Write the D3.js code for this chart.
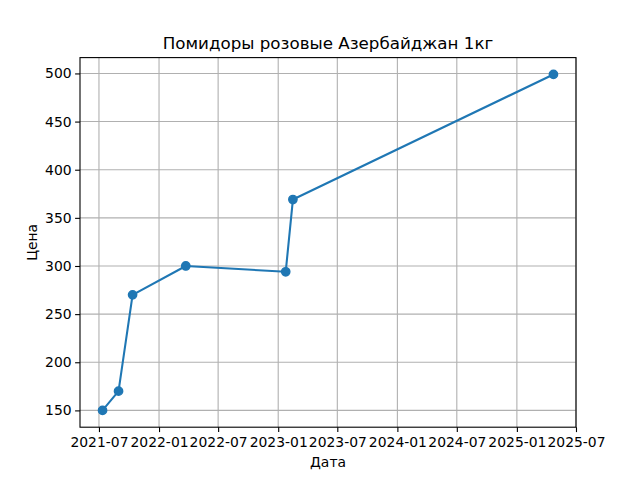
<!DOCTYPE html>
<html>
<head>
<meta charset="utf-8">
<script src="https://cdn.jsdelivr.net/npm/d3@7"></script>
<style>
  html, body { margin: 0; padding: 0; background: #fff; }
  svg { display: block; font-family: "DejaVu Sans", sans-serif; }
</style>
</head>
<body>
<svg id="chart" width="640" height="480"></svg>
<script>
const dates = ["2021-07-12", "2021-08-30", "2021-10-12", "2022-03-24", "2023-01-24", "2023-02-15", "2025-04-23"];
const prices = [150, 170, 270, 300, 294, 369, 499];
const xTickLabels = ["2021-07", "2022-01", "2022-07", "2023-01", "2023-07", "2024-01", "2024-07", "2025-01", "2025-07"];
const yTickValues = [150, 200, 250, 300, 350, 400, 450, 500];
const titleText = "Помидоры розовые Азербайджан 1кг";
const xLabelText = "Дата";
const yLabelText = "Цена";

(function () {
const parse = d3.utcParse("%Y-%m-%d");
const parseTick = d3.utcParse("%Y-%m");
const data = dates.map((d, i) => ({ date: parse(d), value: prices[i] }));

const svg = d3.select("#chart");
const pLeft = 80, pRight = 576, pTop = 57.6, pBottom = 427.2;

const xExt = d3.extent(data, d => +d.date);
const xPad = (xExt[1] - xExt[0]) * 0.05;
const x = d3.scaleUtc()
  .domain([new Date(xExt[0] - xPad), new Date(xExt[1] + xPad)])
  .range([pLeft, pRight]);

const yExt = d3.extent(data, d => d.value);
const yPad = (yExt[1] - yExt[0]) * 0.05;
const y = d3.scaleLinear()
  .domain([yExt[0] - yPad, yExt[1] + yPad])
  .range([pBottom, pTop]);

const xTicks = xTickLabels.map(t => parseTick(t));
const gridColor = "#b0b0b0";

// Grid
const grid = svg.append("g");
grid.selectAll("line.vx").data(xTicks).enter().append("line")
  .attr("x1", d => x(d)).attr("x2", d => x(d))
  .attr("y1", pTop).attr("y2", pBottom)
  .attr("stroke", gridColor).attr("stroke-width", 1.1);
grid.selectAll("line.hy").data(yTickValues).enter().append("line")
  .attr("x1", pLeft).attr("x2", pRight)
  .attr("y1", d => y(d)).attr("y2", d => y(d))
  .attr("stroke", gridColor).attr("stroke-width", 1.1);

// Axes
const fmt = d3.utcFormat("%Y-%m");
const xAxis = d3.axisBottom(x).tickValues(xTicks).tickFormat(fmt).tickSize(4.9).tickPadding(5.5);
const yAxis = d3.axisLeft(y).tickValues(yTickValues).tickSize(4.9).tickPadding(3.5);

const gx = svg.append("g").attr("transform", `translate(0,${pBottom})`).call(xAxis);
const gy = svg.append("g").attr("transform", `translate(${pLeft},0)`).call(yAxis);
[gx, gy].forEach(g => {
  g.select(".domain").remove();
  g.selectAll(".tick line").attr("stroke", "#000").attr("stroke-width", 1.1);
  g.selectAll(".tick text").attr("fill", "#000").attr("font-size", "13.9px").attr("font-family", "DejaVu Sans, sans-serif");
});

// Line & markers
const color = "#1f77b4";
const line = d3.line().x(d => x(d.date)).y(d => y(d.value));
svg.append("path").datum(data)
  .attr("d", line).attr("fill", "none")
  .attr("stroke", color).attr("stroke-width", 2.08)
  .attr("stroke-linejoin", "round").attr("stroke-linecap", "square");
svg.selectAll("circle.pt").data(data).enter().append("circle")
  .attr("cx", d => x(d.date)).attr("cy", d => y(d.value))
  .attr("r", 4.17).attr("fill", color)
  .attr("stroke", color).attr("stroke-width", 1.39);

// Frame
svg.append("rect")
  .attr("x", pLeft).attr("y", pTop)
  .attr("width", pRight - pLeft).attr("height", pBottom - pTop)
  .attr("fill", "none").attr("stroke", "#000").attr("stroke-width", 1.1);

// Texts
svg.append("text").attr("x", (pLeft + pRight) / 2).attr("y", 49)
  .attr("text-anchor", "middle").attr("font-size", "16.7px").attr("fill", "#000")
  .text(titleText);
svg.append("text").attr("x", (pLeft + pRight) / 2).attr("y", 467)
  .attr("text-anchor", "middle").attr("font-size", "13.9px").attr("fill", "#000")
  .text(xLabelText);
svg.append("text")
  .attr("transform", `translate(37,${(pTop + pBottom) / 2}) rotate(-90)`)
  .attr("text-anchor", "middle").attr("font-size", "13.9px").attr("fill", "#000")
  .text(yLabelText);
})();
</script>
</body>
</html>
